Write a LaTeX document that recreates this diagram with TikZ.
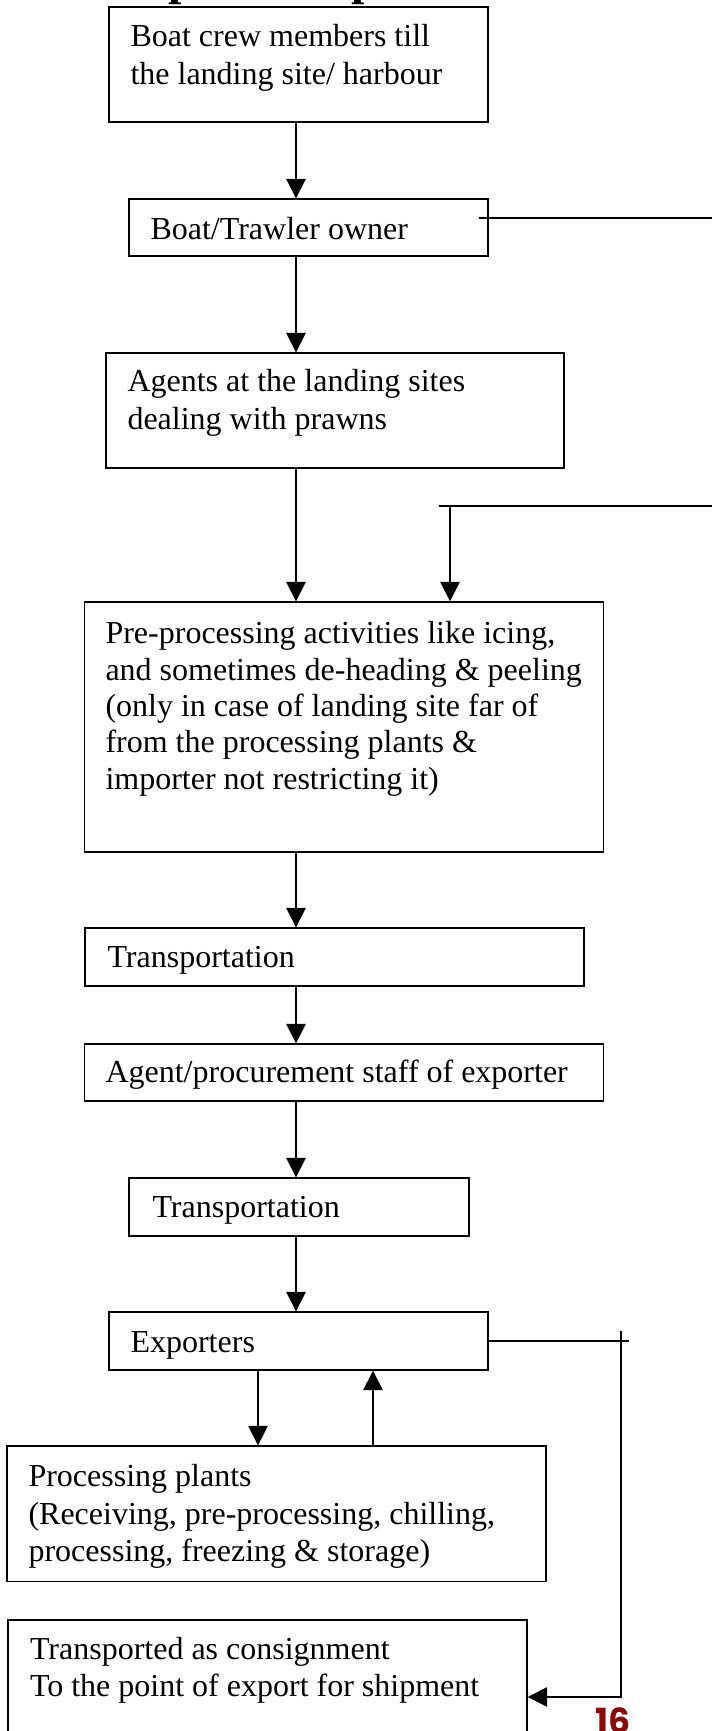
\documentclass[tikz,border=0pt]{standalone}
\usepackage{fontspec}
\setmainfont{Liberation Serif}
\newfontfamily\pagenumfont{Poppins}
\usetikzlibrary{arrows.meta,fit}
\definecolor{pagered}{HTML}{8B0A0A}
\begin{document}
\begin{tikzpicture}[x=0.375pt,y=-0.375pt,
  box/.style={draw, line width=0.5pt, inner sep=0pt, rectangle},
  txt/.style={anchor=base west, inner sep=0pt, font=\fontsize{12}{13.8}\selectfont},
  link/.style={line width=0.5pt},
  flow/.style={line width=0.5pt, -{Triangle[length=7.3pt,width=7.3pt]}},
]
\useasboundingbox (0,0) rectangle (712,1731);
\clip (0,0) rectangle (712,1731);

% heading (only the descenders fall inside the page area)
\node[anchor=base west, inner sep=0pt, font=\fontsize{18}{18}\selectfont\bfseries] (tp1) at (168,-5) {p};
\node[anchor=base west, inner sep=0pt, font=\fontsize{18}{18}\selectfont\bfseries] (tp2) at (351,-5) {p};

% boxes
\node[box, fit={(109,7) (488,122)}] (b1) {};
\node[box, fit={(129,199) (488,256)}] (b2) {};
\node[box, fit={(106,353) (564,468)}] (b3) {};
\node[box, fit={(84.5,602) (603.5,852)}] (b4) {};
\node[box, fit={(85,928) (584,986)}] (b5) {};
\node[box, fit={(84.5,1044) (603.5,1101)}] (b6) {};
\node[box, fit={(129,1178) (469,1236)}] (b7) {};
\node[box, fit={(109,1312) (488,1370)}] (b8) {};
\node[box, fit={(7,1446) (546,1581.5)}] (b9) {};
\node[box, fit={(8,1620) (527,1780)}] (b10) {};

% box texts
\node[txt] (t1a) at (130,47) {Boat crew members till};
\node[txt] (t1b) at (130,84) {the landing site/ harbour};
\node[txt] (t2) at (150,239) {Boat/Trawler owner};
\node[txt] (t3a) at (127,391) {Agents at the landing sites};
\node[txt] (t3b) at (127,429) {dealing with prawns};
\node[txt] (t4a) at (105,643) {Pre-processing activities like icing,};
\node[txt] (t4b) at (105,680) {and sometimes de-heading \& peeling};
\node[txt] (t4c) at (105,716) {(only in case of landing site far of};
\node[txt] (t4d) at (105,752) {from the processing plants \&};
\node[txt] (t4e) at (105,789) {importer not restricting it)};
\node[txt] (t5) at (107,967) {Transportation};
\node[txt] (t6) at (105,1082) {Agent/procurement staff of exporter};
\node[txt] (t7) at (152,1217) {Transportation};
\node[txt] (t8) at (130,1352) {Exporters};
\node[txt] (t9a) at (28,1486) {Processing plants};
\node[txt] (t9b) at (28,1524) {(Receiving, pre-processing, chilling,};
\node[txt] (t9c) at (28,1561) {processing, freezing \& storage)};
\node[txt] (t10a) at (29.5,1659) {Transported as consignment};
\node[txt] (t10b) at (29.5,1696) {To the point of export for shipment};

% page number
\node[anchor=base west, inner sep=0pt, text=pagered,
      font=\pagenumfont\bfseries\fontsize{13}{13}\selectfont] (pg) at (595,1733) {16};

% helper coordinates
\coordinate (spine) at (296,0);
\coordinate (side) at (450,0);
\coordinate (dn) at (258,0);
\coordinate (up) at (373,0);
\coordinate (s1) at (479,218);
\coordinate (e1) at (712,218);
\coordinate (s2) at (439,506);
\coordinate (e2) at (712,506);
\coordinate (k2) at (450,506);
\coordinate (c0) at (629,0);
\coordinate (c1) at (621,1331);
\coordinate (c2) at (621,1697);

% main flow
\draw[flow] (b1.south -| spine) -- (b2.north -| spine);
\draw[flow] (b2.south -| spine) -- (b3.north -| spine);
\draw[flow] (b3.south -| spine) -- (b4.north -| spine);
\draw[flow] (b4.south -| spine) -- (b5.north -| spine);
\draw[flow] (b5.south -| spine) -- (b6.north -| spine);
\draw[flow] (b6.south -| spine) -- (b7.north -| spine);
\draw[flow] (b7.south -| spine) -- (b8.north -| spine);

% side lines
\draw[link] (s1) -- (e1);
\draw[link] (s2) -- (e2);
\draw[flow] (k2) -- (b4.north -| side);

% exporters and processing plants
\draw[flow] (b8.south -| dn) -- (b9.north -| dn);
\draw[flow] (b9.north -| up) -- (b8.south -| up);

% route to the point of export
\draw[link] (b8.east) -- (b8.east -| c0);
\draw[flow] (c1) -- (c2) -- (c2 -| b10.east);
\end{tikzpicture}
\end{document}
